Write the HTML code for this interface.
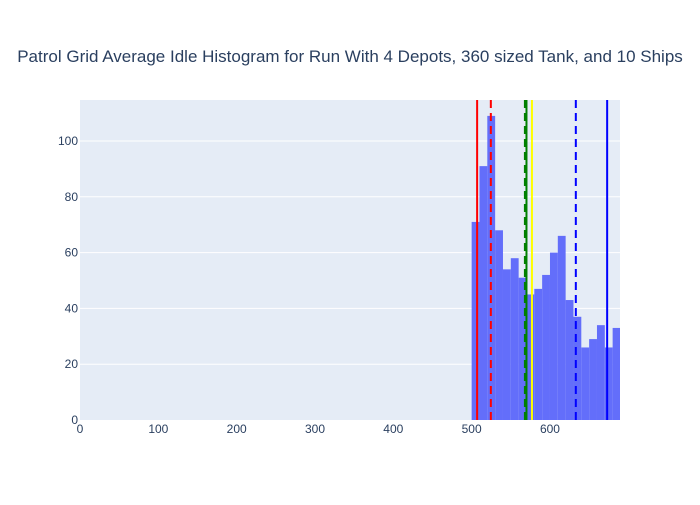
<!DOCTYPE html>
<html><head><meta charset="utf-8"><style>
body{margin:0;background:#fff;font-family:"Liberation Sans",sans-serif}
text{font-family:"Liberation Sans",sans-serif;fill:#2a3f5f}
</style></head><body>
<svg id="chart" width="700" height="500">
<rect width="700" height="500" fill="#fff"/>
<text x="350" y="62" text-anchor="middle" font-size="17">Patrol Grid Average Idle Histogram for Run With 4 Depots, 360 sized Tank, and 10 Ships</text>
<rect x="80" y="100" width="540" height="320" fill="#e5ecf6"/>
<g id="grid"></g><g id="bars"></g><g id="vlines"></g><g id="axes"></g>
</svg>
<script>
const binStarts=[500,510,520,530,540,550,560,570,580,590,600,610,620,630,640,650,660,670,680];
const counts=[71,91,109,68,54,58,51,45,47,52,60,66,43,37,26,29,34,26,33];
const binWidth=10;
const xTicks=[0,100,200,300,400,500,600];
const yTicks=[0,20,40,60,80,100];
const refValues=[507,524.5,568,570,577,633,673];
const refColors=['red','red','green','green','yellow','blue','blue'];
const refDashed=[false,true,true,false,false,true,false];
const X0=80,X1=620,Y0=420,Y1=100,XMAX=689.4,YMAX=114.7;
const x=v=>X0+(v/XMAX)*(X1-X0);
const y=v=>Y0-(v/YMAX)*(Y0-Y1);
const NS='http://www.w3.org/2000/svg';
function mk(t,a,p){const e=document.createElementNS(NS,t);for(const k in a)e.setAttribute(k,a[k]);p.appendChild(e);return e;}
const grid=document.getElementById('grid'),bars=document.getElementById('bars'),vl=document.getElementById('vlines'),ax=document.getElementById('axes');
yTicks.forEach(t=>{if(t>0){const l=mk('line',{x1:X0,x2:X1,y1:y(t),y2:y(t),stroke:'#fff','stroke-width':1},grid);

}
const tx=mk('text',{x:X0-2,y:y(t)+4,'text-anchor':'end','font-size':12},ax);tx.textContent=t;

});
xTicks.forEach(t=>{const tx=mk('text',{x:x(t),y:Y0+13,'text-anchor':'middle','font-size':12},ax);tx.textContent=t;

});
binStarts.forEach((b,i)=>{const xe=Math.min(X1,x(b+binWidth));const r=mk('rect',{x:x(b),y:y(counts[i]),width:xe-x(b),height:Y0-y(counts[i]),fill:'#636efa'},bars);

});
refValues.forEach((v,i)=>{const a={x1:x(v),x2:x(v),y1:Y1,y2:Y0,stroke:refColors[i],'stroke-width':2};if(refDashed[i])a['stroke-dasharray']='8,5';const l=mk('line',a,vl);

});
</script>
</body></html>
